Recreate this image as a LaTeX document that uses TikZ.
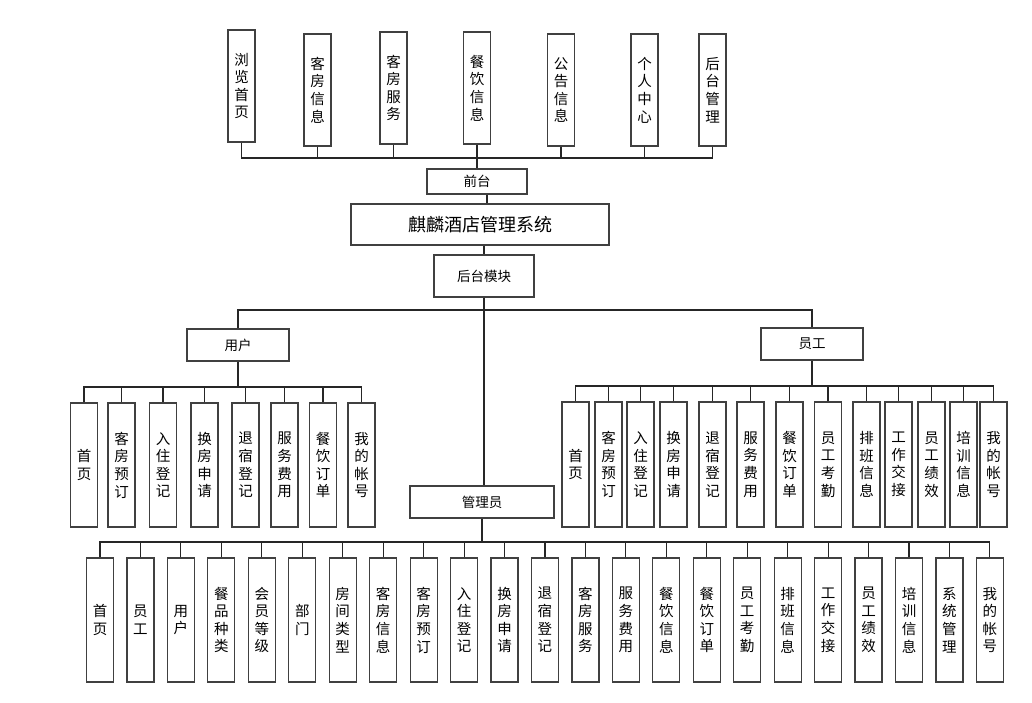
\documentclass[tikz,border=0pt]{standalone}
\usepackage{fontspec}
\newfontfamily\cjk{Noto Sans CJK SC}
\begin{document}
\begin{tikzpicture}[x=1pt,y=-1pt,
  box/.style={draw=black!75, line width=1.2pt, fill=white, inner sep=0pt,
    font=\cjk\fontsize{13.5}{16}\selectfont},
  vbox/.style={box, minimum width=27pt, align=center,
    font=\cjk\fontsize{14.5}{17.6}\selectfont},
  link/.style={draw=black!85, line width=1.1pt}]
\useasboundingbox (0,0) rectangle (1032,703);

% front-end modules
\node[vbox, minimum height=112pt] (f1) at (241.5,86) {浏\\览\\首\\页};
\node[vbox, minimum height=112pt] (f2) at (317.5,90) {客\\房\\信\\息};
\node[vbox, minimum height=112pt] (f3) at (393.5,88) {客\\房\\服\\务};
\node[vbox, minimum height=112pt] (f4) at (477,88) {餐\\饮\\信\\息};
\node[vbox, minimum height=112pt] (f5) at (561,90) {公\\告\\信\\息};
\node[vbox, minimum height=112pt] (f6) at (644.5,90) {个\\人\\中\\心};
\node[vbox, minimum height=112pt] (f7) at (712.5,90) {后\\台\\管\\理};

% central spine
\node[box, minimum width=100pt, minimum height=25pt] (qiantai) at (477,181.5) {前台};
\node[box, minimum width=258pt, minimum height=41pt,
  font=\cjk\fontsize{18}{21}\selectfont] (sys) at (480,224.5) {麒麟酒店管理系统};
\node[box, minimum width=100pt, minimum height=42pt] (houtai) at (484,276) {后台模块};

% back-end roles
\node[box, minimum width=102pt, minimum height=32pt] (yonghu) at (238,345) {用户};
\node[box, minimum width=102pt, minimum height=32pt] (yuangong) at (812,344) {员工};
\node[box, minimum width=144pt, minimum height=32pt] (guanli) at (482,502) {管理员};

% bus levels
\coordinate (tbus) at (0,158);
\coordinate (mbus) at (0,310);
\coordinate (ubus) at (0,387);
\coordinate (sbus) at (0,386);
\coordinate (abus) at (0,542);
\coordinate (qdrop) at ([xshift=10pt]qiantai.south);

% user functions
\foreach \t/\x [count=\i] in {首\\页/84, 客\\房\\预\\订/121.5, 入\\住\\登\\记/163,
    换\\房\\申\\请/204.5, 退\\宿\\登\\记/245.5, 服\\务\\费\\用/284.5,
    餐\\饮\\订\\单/323, 我\\的\\帐\\号/361.5}
  \node[vbox, minimum height=124pt] (u\i) at (\x,465) {\t};

% staff functions
\foreach \t/\x [count=\i] in {首\\页/575.5, 客\\房\\预\\订/608.5, 入\\住\\登\\记/640.5,
    换\\房\\申\\请/673.5, 退\\宿\\登\\记/712.5, 服\\务\\费\\用/750.5,
    餐\\饮\\订\\单/789.5, 员\\工\\考\\勤/828, 排\\班\\信\\息/866.5,
    工\\作\\交\\接/898.5, 员\\工\\绩\\效/931.5, 培\\训\\信\\息/963.5,
    我\\的\\帐\\号/993.5}
  \node[vbox, minimum height=125pt] (s\i) at (\x,464.5) {\t};

% administrator functions
\foreach \t [count=\i] in {首\\页, 员\\工, 用\\户, 餐\\品\\种\\类, 会\\员\\等\\级,
    部\\门, 房\\间\\类\\型, 客\\房\\信\\息, 客\\房\\预\\订, 入\\住\\登\\记,
    换\\房\\申\\请, 退\\宿\\登\\记, 客\\房\\服\\务, 服\\务\\费\\用,
    餐\\饮\\信\\息, 餐\\饮\\订\\单, 员\\工\\考\\勤, 排\\班\\信\\息,
    工\\作\\交\\接, 员\\工\\绩\\效, 培\\训\\信\\息, 系\\统\\管\\理,
    我\\的\\帐\\号}
  \node[vbox, minimum height=124pt] (a\i) at ({100+40.45*(\i-1)},620) {\t};

% connectors
\foreach \i in {1,...,7}
  \draw[link] (f\i.south) -- (f\i.south |- tbus) -| (qiantai.north);
\draw[link] (qdrop) -- (qdrop |- sys.north);
\draw[link] (houtai.north |- sys.south) -- (houtai.north);
\draw[link] (yonghu.north) -- (yonghu.north |- mbus) -| (houtai.south);
\draw[link] (yuangong.north) -- (yuangong.north |- mbus) -| (houtai.south);
\draw[link] (houtai.south) -- (houtai.south |- guanli.north);
\foreach \i in {1,...,8}
  \draw[link] (u\i.north) -- (u\i.north |- ubus) -| (yonghu.south);
\foreach \i in {1,...,13}
  \draw[link] (s\i.north) -- (s\i.north |- sbus) -| (yuangong.south);
\foreach \i in {1,...,23}
  \draw[link] (a\i.north) -- (a\i.north |- abus) -| (guanli.south);
\end{tikzpicture}
\end{document}
